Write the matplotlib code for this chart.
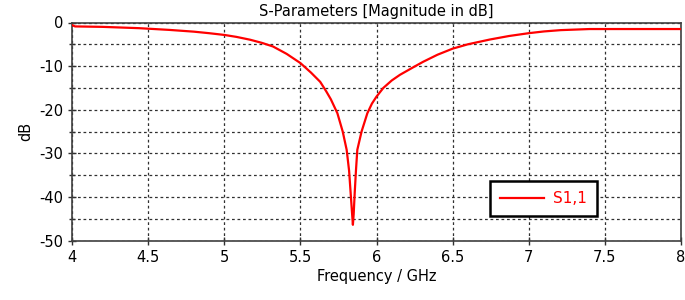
import matplotlib
matplotlib.use("Agg")
import matplotlib.pyplot as plt
from matplotlib.ticker import MultipleLocator

freq = [4.0, 4.02, 4.2, 4.44, 4.64, 4.8, 4.9, 5.0, 5.08, 5.17, 5.25, 5.32, 5.41, 5.5, 5.57,
        5.63, 5.67, 5.70, 5.743, 5.778, 5.804, 5.82, 5.83, 5.84, 5.845, 5.85, 5.857, 5.865,
        5.874, 5.902, 5.94, 5.97, 6.0, 6.045, 6.1, 6.154, 6.25, 6.307, 6.4, 6.5, 6.6, 6.745,
        6.87, 7.0, 7.1, 7.21, 7.4, 8.0]
s11 = [-0.6, -0.9, -1.0, -1.3, -1.7, -2.1, -2.45, -2.85, -3.3, -3.95, -4.7, -5.5, -7.2, -9.3, -11.5,
       -13.6, -15.8, -17.6, -20.8, -25.0, -29.2, -34.0, -39.0, -44.0, -46.4, -44.0, -39.0, -34.0,
       -29.2, -25.0, -20.8, -18.6, -17.0, -15.0, -13.3, -12.0, -10.1, -9.0, -7.4, -6.0, -5.0, -3.9,
       -3.1, -2.45, -2.05, -1.75, -1.5, -1.5]

xticks = [4, 4.5, 5, 5.5, 6, 6.5, 7, 7.5, 8]
xticklabels = ["4", "4.5", "5", "5.5", "6", "6.5", "7", "7.5", "8"]
yticks = [0, -10, -20, -30, -40, -50]
yticklabels = ["0", "-10", "-20", "-30", "-40", "-50"]

plt.rcParams['font.family'] = ['DejaVu Sans']
fig = plt.figure(figsize=(6.85, 3.0), dpi=100)
ax = fig.add_axes([72/685, 1 - 240.5/300, (681-72)/685, (240.5-22.5)/300])

ax.plot(freq, s11, color='#ff0000', lw=1.6, label='S1,1', zorder=3)
ax.set_xlim(4, 8)
ax.set_ylim(-50, 0)
ax.set_xticks(xticks)
ax.set_xticklabels(xticklabels)
ax.set_yticks(yticks)
ax.set_yticklabels(yticklabels)
ax.yaxis.set_minor_locator(MultipleLocator(5))

ax.grid(True, which='both', color='#303030', linestyle=(0, (2.2, 2.2)), linewidth=0.9)
ax.tick_params(which='both', direction='inout', length=6, width=1, color='#303030',
               labelsize=10.5, top=False, right=False)
ax.tick_params(axis='y', which='minor', length=5)
for sp in ax.spines.values():
    sp.set_color('#404040')
    sp.set_linewidth(1.2)

ax.set_title('S-Parameters [Magnitude in dB]', fontsize=10.5, pad=5)
ax.set_xlabel('Frequency / GHz', fontsize=10.5, labelpad=3)
ax.set_ylabel('dB', fontsize=10.5, labelpad=4)

leg = ax.legend(loc='upper left', bbox_to_anchor=((490-72)/609, (240.5-181)/218),
                borderaxespad=0, fancybox=False, framealpha=1, edgecolor='black',
                fontsize=11, handlelength=2.9, borderpad=0.65, handletextpad=0.6)
leg.get_frame().set_linewidth(1.8)
for t in leg.get_texts():
    t.set_color('#ff0000')

fig.savefig('out.png', dpi=100)
